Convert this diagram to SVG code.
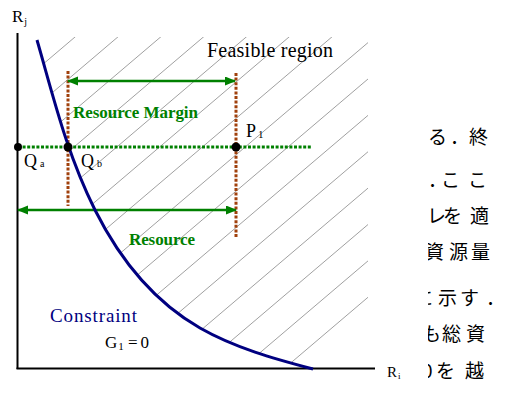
<svg xmlns="http://www.w3.org/2000/svg" width="506" height="394" viewBox="0 0 506 394">
<style>
.serif{font-family:"Liberation Serif","Times New Roman",serif;fill:#000}
.lbl{font-family:"Liberation Serif","Times New Roman",serif;font-weight:bold;fill:#008000}
.jp{font-family:"Noto Sans CJK JP","Noto Sans",sans-serif;font-size:19px;fill:#000}
.hatch line{stroke:#a0a0a0;stroke-width:1}
.gdot{stroke:#008000;stroke-width:3;stroke-dasharray:3 1.6;fill:none}
.bdot{stroke:#a0400c;stroke-width:3;stroke-dasharray:3 1.6;fill:none}
.arrow{stroke:#008000;stroke-width:2.5;fill:none;marker-start:url(#ah);marker-end:url(#ah)}
</style>
<defs>
<marker id="ah" markerUnits="userSpaceOnUse" markerWidth="12" markerHeight="10" refX="10" refY="4.5" orient="auto-start-reverse">
<path d="M0,0 L11,4.5 L0,9 Z" fill="#008000"/>
</marker>
<clipPath id="hclip">
<path d="M37,37 L368,37 L368,300 L300,369 L313,369 C274.3,358.8 234.7,347.8 200,328 C152.3,300.7 119.6,259 95,210 C66.5,153 53.5,97 37,40 Z"/>
</clipPath>
<clipPath id="jclip"><rect x="428" y="0" width="78" height="394"/></clipPath>
</defs>
<rect width="506" height="394" fill="#fff"/>

<g id="japanese-text" class="jp" clip-path="url(#jclip)">
<text x="428 450 469" y="144">る．終</text>
<text x="428 441 468" y="187">．ここ</text>
<text x="427 443 470" y="223">レを適</text>
<text x="425 449 471" y="259">資源量</text>
<text x="414 438 460 486" y="305">に示す．</text>
<text x="422 442 466" y="341">も総資</text>
<text x="422 436 465" y="378">0を越</text>
</g>

<g id="feasible-region" class="hatch" clip-path="url(#hclip)">
<line x1="0" y1="100.75" x2="400" y2="-239.25"/>
<line x1="0" y1="137.13" x2="400" y2="-202.87"/>
<line x1="0" y1="173.51" x2="400" y2="-166.49"/>
<line x1="0" y1="209.89" x2="400" y2="-130.11"/>
<line x1="0" y1="246.27" x2="400" y2="-93.73"/>
<line x1="0" y1="282.65" x2="400" y2="-57.35"/>
<line x1="0" y1="319.03" x2="400" y2="-20.97"/>
<line x1="0" y1="355.41" x2="400" y2="15.41"/>
<line x1="0" y1="391.79" x2="400" y2="51.79"/>
<line x1="0" y1="428.17" x2="400" y2="88.17"/>
<line x1="0" y1="464.55" x2="400" y2="124.55"/>
<line x1="0" y1="500.93" x2="400" y2="160.93"/>
<line x1="0" y1="537.31" x2="400" y2="197.31"/>
<line x1="0" y1="573.69" x2="400" y2="233.69"/>
<line x1="0" y1="610.07" x2="400" y2="270.07"/>
</g>

<g id="axes" stroke="#000" stroke-width="2" fill="none">
<line x1="17.5" y1="33" x2="17.5" y2="369"/>
<line x1="16.5" y1="368.5" x2="375" y2="368.5"/>
</g>

<g id="connectors">
<line class="gdot" x1="18" y1="147" x2="312" y2="147"/>
<line class="bdot" x1="68" y1="71" x2="68" y2="206"/>
<line class="bdot" x1="236" y1="73" x2="236" y2="238"/>
<line class="arrow" x1="68" y1="81" x2="235" y2="81"/>
<line class="arrow" x1="18" y1="210" x2="236" y2="210"/>
</g>

<g id="constraint-curve">
<path d="M37,40 C53.5,97 66.5,153 95,210 C119.6,259 152.3,300.7 200,328 C234.7,347.8 274.3,358.8 313,369" fill="none" stroke="#000080" stroke-width="3"/>
</g>

<g id="points" fill="#000">
<circle id="Qa" cx="18" cy="147" r="4"/>
<circle id="Qb" cx="68" cy="147" r="4.5"/>
<circle id="P1" cx="236" cy="147" r="4.5"/>
</g>

<g id="labels">
<text class="serif" x="12" y="22" font-size="17">R<tspan font-size="10" dx="1" dy="3">j</tspan></text>
<text class="serif" x="387" y="377" font-size="15">R<tspan font-size="9" dx="1" dy="2">i</tspan></text>
<text class="serif" x="207" y="57" font-size="20" textLength="126">Feasible region</text>
<text class="lbl" x="73" y="118" font-size="17" textLength="125">Resource Margin</text>
<text class="lbl" x="129" y="245" font-size="17" textLength="66">Resource</text>
<text class="serif" x="24" y="167" font-size="18">Q<tspan font-size="10" dx="3">a</tspan></text>
<text class="serif" x="81" y="167" font-size="18">Q<tspan font-size="10" dx="3">b</tspan></text>
<text class="serif" x="246" y="137" font-size="18">P<tspan font-size="11" dx="2" dy="1">1</tspan></text>
<text x="50" y="322" font-size="19" textLength="87" style="font-family:'Liberation Serif','Times New Roman',serif;fill:#000080">Constraint</text>
<text class="serif" x="105" y="348" font-size="17">G<tspan font-size="11" dx="1" dy="2">1</tspan></text>
<text class="serif" x="128" y="348" font-size="17" textLength="21">=0</text>
</g>
</svg>
